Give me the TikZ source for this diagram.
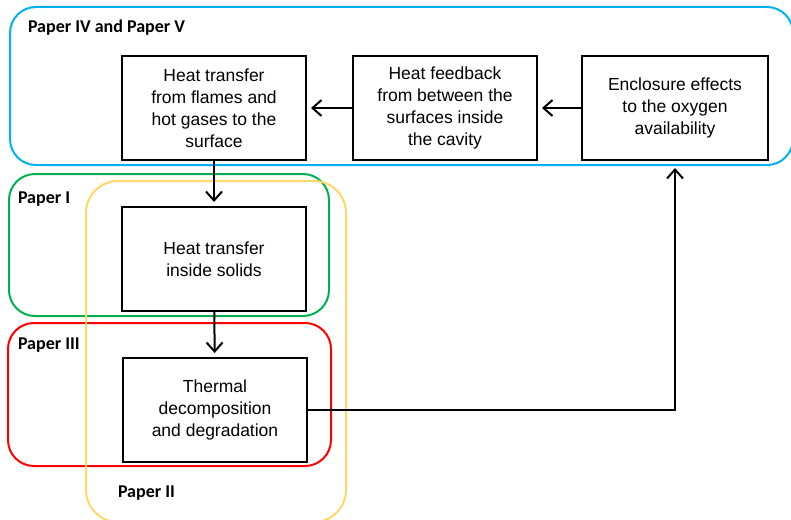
\documentclass[tikz,border=0pt]{standalone}
\usepackage{fontspec}
\setmainfont{Liberation Sans}
\newfontfamily\labelfont{Carlito}
\usetikzlibrary{arrows.meta}

\definecolor{paperblue}{RGB}{0,176,240}
\definecolor{papergreen}{RGB}{0,176,80}
\definecolor{paperred}{RGB}{255,0,0}
\definecolor{paperyellow}{RGB}{255,217,102}

\tikzset{
	process/.style={draw, line width=2pt, fill=white, align=center, inner sep=0pt,
		minimum width=184pt, minimum height=104pt, font=\fontsize{17.5}{22}\selectfont},
	frame/.style={line width=2pt, rounded corners=26pt},
	paper/.style={anchor=west, inner sep=0pt, font=\labelfont\bfseries\fontsize{18}{20}\selectfont}
}

\begin{document}
\begin{tikzpicture}[x=1pt, y=-1pt, line width=2pt, arrows={-Straight Barb[length=9pt,width=16pt]}]
	\useasboundingbox (0,0) rectangle (791,519);

	% groups of papers
	\draw[frame, paperblue] (10,7) rectangle (793,165);
	\draw[frame, papergreen] (9,174) rectangle (329,316);
	\draw[frame, paperred] (8,323) rectangle (331,466);
	\draw[frame, paperyellow, rounded corners=32pt] (86,181) rectangle (346,522);

	\node[paper] (P45) at (27,28) {Paper IV and Paper V};
	\node[paper] (P1) at (17,199) {Paper I};
	\node[paper] (P3) at (17,345) {Paper III};
	\node[paper] (P2) at (117,493) {Paper II};

	% processes
	\node[process] (flames) at (214,108) {Heat transfer\\from flames and\\hot gases to the\\surface};
	\node[process] (feedback) at (445,108) {Heat feedback\\from between the\\surfaces inside\\the cavity};
	\node[process, minimum width=186pt] (oxygen) at (675,108) {Enclosure effects\\to the oxygen\\availability};
	\node[process] (solids) at (214,259) {Heat transfer\\inside solids};
	\node[process] (decomp) at (215,410) {Thermal\\decomposition\\and degradation};

	\draw[shorten >=4pt] (oxygen) -- (feedback);
	\draw[shorten >=4pt] (feedback) -- (flames);
	\draw[shorten >=4pt] (flames) -- (solids);
	\draw[shorten >=4pt] (solids) -- (decomp);
	\draw[shorten >=7pt] (decomp.east) -| (oxygen.south);
\end{tikzpicture}
\end{document}
